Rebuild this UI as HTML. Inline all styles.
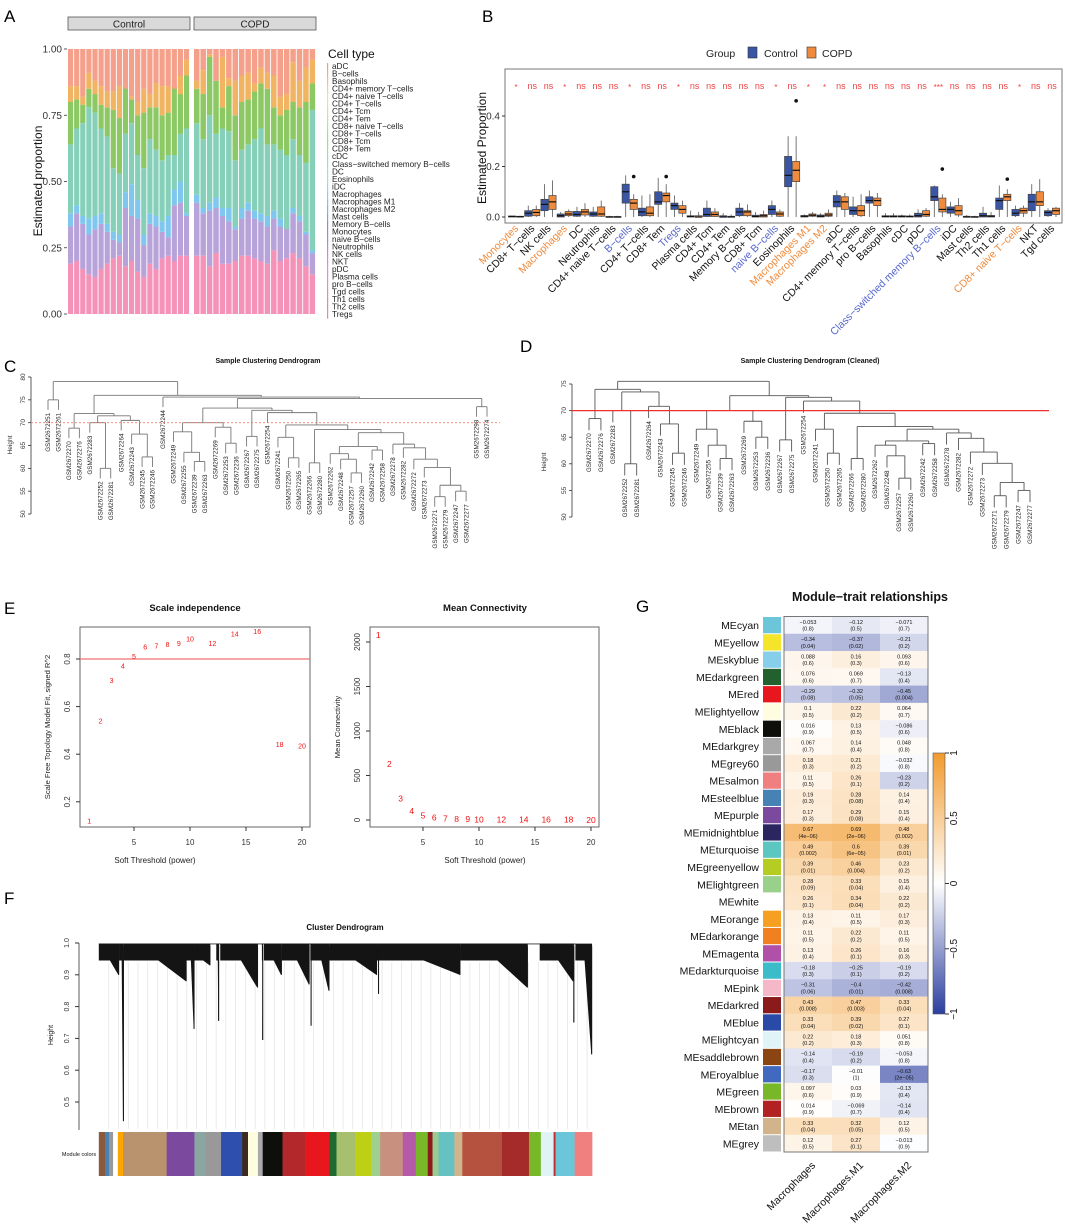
<!DOCTYPE html>
<html><head><meta charset="utf-8"><title>Figure</title>
<style>
html,body{margin:0;padding:0;background:#fff;}
svg{display:block;font-family:"Liberation Sans",Arial,sans-serif;}
</style></head>
<body>
<svg id="fig" width="1065" height="1224" viewBox="0 0 1065 1224" xmlns="http://www.w3.org/2000/svg">
<rect x="0" y="0" width="1065" height="1224" fill="#fff"/>
<text x="4" y="22" font-size="17">A</text>
<text x="482" y="22" font-size="17">B</text>
<text x="4" y="372" font-size="17">C</text>
<text x="520" y="352" font-size="17">D</text>
<text x="4" y="614" font-size="17">E</text>
<text x="4" y="904" font-size="17">F</text>
<text x="636" y="612" font-size="17">G</text>
<g id="gA"></g>
<g id="gB"></g>
<g id="gC"></g>
<g id="gD"></g>
<g id="gE"></g>
<g id="gF"></g>
<g id="gG"></g>
</svg>
<script>
// ---------- Panel A data ----------
const ctrlPink=[.19,.2,.17,.15,.14,.17,.19,.21,.22,.18,.2,.16,.14,.19,.17,.21,.22,.2,.22,.22];
const ctrlPurple=[.33,.38,.34,.3,.32,.34,.31,.28,.27,.4,.37,.36,.26,.34,.33,.31,.29,.41,.42,.37];
const ctrlBlue=[.38,.41,.37,.36,.37,.38,.34,.31,.3,.46,.49,.43,.3,.38,.37,.35,.37,.47,.5,.38];
const ctrlTeal=[.64,.7,.72,.78,.76,.7,.67,.55,.53,.68,.72,.6,.55,.66,.62,.58,.6,.6,.68,.7];
const ctrlGreen=[.8,.81,.79,.85,.83,.79,.78,.77,.74,.86,.81,.75,.76,.78,.78,.75,.76,.86,.83,.9];
const ctrlOrange=[.86,.86,.82,.91,.88,.86,.84,.84,.86,.85,.82,.8,.85,.83,.87,.86,.86,.85,.9,.96];
const copdPink=[.22,.22,.18,.23,.19,.19,.2,.22,.22,.21,.2,.19,.24,.2,.21,.23,.21,.18,.15];
const copdPurple=[.42,.38,.39,.4,.37,.35,.32,.36,.39,.36,.35,.33,.36,.33,.37,.38,.35,.3,.23];
const copdBlue=[.45,.4,.42,.44,.4,.4,.33,.4,.42,.39,.38,.37,.39,.36,.32,.4,.37,.31,.24];
const copdTeal=[.72,.66,.75,.68,.7,.69,.58,.62,.64,.66,.7,.64,.64,.62,.6,.66,.6,.57,.77];
const copdGreen=[.85,.83,.97,.88,.78,.86,.75,.8,.81,.84,.87,.85,.78,.75,.77,.8,.78,.8,.87];
const copdOrange=[.88,.92,.98,.88,.97,.89,.88,.9,.91,.87,.93,.91,.9,.82,.83,.95,.88,.93,.96];
const cellTypes=["aDC","B\u2212cells","Basophils","CD4+ memory T\u2212cells","CD4+ naive T\u2212cells","CD4+ T\u2212cells","CD4+ Tcm","CD4+ Tem","CD8+ naive T\u2212cells","CD8+ T\u2212cells","CD8+ Tcm","CD8+ Tem","cDC","Class\u2212switched memory B\u2212cells","DC","Eosinophils","iDC","Macrophages","Macrophages M1","Macrophages M2","Mast cells","Memory B\u2212cells","Monocytes","naive B\u2212cells","Neutrophils","NK cells","NKT","pDC","Plasma cells","pro B\u2212cells","Tgd cells","Th1 cells","Th2 cells","Tregs"];
const yTicksA=[0,0.25,0.5,0.75,1];
const yTickLabelsA=["0.00","0.25","0.50","0.75","1.00"];

// ---------- Panel B data ----------
const bCats=["Monocytes","CD8+ T\u2212cells","NK cells","Macrophages","DC","Neutrophils","CD4+ naive T\u2212cells","B\u2212cells","CD4+ T\u2212cells","CD8+ Tem","Tregs","Plasma cells","CD4+ Tcm","CD4+ Tem","Memory B\u2212cells","CD8+ Tcm","naive B\u2212cells","Eosinophils","Macrophages M1","Macrophages M2","aDC","CD4+ memory T\u2212cells","pro B\u2212cells","Basophils","cDC","pDC","Class\u2212switched memory B\u2212cells","iDC","Mast cells","Th2 cells","Th1 cells","CD8+ naive T\u2212cells","NKT","Tgd cells"];
const bCatTone=["o","k","k","o","k","k","k","b","k","k","b","k","k","k","k","k","b","k","o","o","k","k","k","k","k","k","b","k","k","k","k","o","k","k"];
const bSig=["*","ns","ns","*","ns","ns","ns","*","ns","ns","*","ns","ns","ns","ns","ns","*","ns","*","*","ns","ns","ns","ns","ns","ns","***","ns","ns","ns","ns","*","ns","ns"];
const ctrlMed=[.002,.015,.05,.005,.01,.012,0,.1,.02,.06,.045,.002,.01,0,.02,.002,.03,.165,.003,.003,.06,.025,.065,.002,.002,.005,.08,.03,0,.005,.065,.015,.06,.018];
const ctrlQ1=[0,.003,.025,0,.003,.003,0,.055,.005,.05,.03,0,.002,0,.005,0,.01,.12,0,0,.04,.01,.055,0,0,0,.065,.015,0,0,.03,.005,.025,.005];
const ctrlQ3=[.004,.025,.07,.012,.022,.02,.002,.13,.035,.1,.055,.005,.035,.005,.035,.007,.045,.24,.006,.008,.085,.04,.08,.005,.005,.015,.12,.04,.003,.015,.075,.03,.09,.025];
const ctrlHi=[.006,.045,.13,.02,.04,.04,.005,.165,.085,.155,.085,.025,.065,.015,.055,.02,.065,.32,.01,.015,.105,.08,.105,.015,.01,.03,.125,.06,.008,.04,.125,.045,.13,.035];
const copdMed=[.001,.018,.06,.012,.02,.012,0,.055,.015,.085,.03,0,.01,0,.02,.005,.012,.185,.007,.008,.06,.025,.065,.002,.002,.01,.03,.025,0,.003,.08,.025,.06,.025];
const copdQ1=[0,.005,.03,.005,.008,.003,0,.03,.005,.06,.015,0,.002,0,.005,0,.003,.14,.003,.003,.03,.005,.045,0,0,.003,.02,.008,0,0,.065,.015,.045,.01];
const copdQ3=[.003,.03,.085,.022,.03,.04,.002,.07,.04,.095,.045,.005,.02,.003,.025,.01,.02,.22,.012,.015,.08,.045,.075,.005,.004,.025,.075,.045,.002,.006,.09,.035,.1,.035];
const copdHi=[.005,.045,.145,.03,.055,.065,.005,.09,.09,.13,.065,.02,.035,.01,.05,.025,.03,.32,.02,.03,.095,.09,.095,.015,.01,.035,.09,.075,.005,.02,.11,.045,.15,.04];
const yTicksB=[0,0.2,0.4];

// ---------- Panel C / D data (nested merges: [height, left, right]) ----------
const treeC=[79,[75,"GSM2672251","GSM2672261"],[76,
  [72,[68.8,"GSM2672270","GSM2672276"],[71.5,[70,"GSM2672283",[60,"GSM2672252","GSM2672281"]],[70.5,"GSM2672264",[67.5,"GSM2672243",[62.5,"GSM2672245","GSM2672246"]]]]],
  [75.6,"GSM2672244",[75.3,
    [73.2,[70,[68,"GSM2672249",[63.5,"GSM2672255",[61.5,"GSM2672239","GSM2672263"]]],[69,"GSM2672269",[65.5,"GSM2672253","GSM2672236"]]],
      [72.7,[67,"GSM2672267","GSM2672275"],[72.2,"GSM2672254",[69.5,[66.8,"GSM2672241",[62.3,"GSM2672250","GSM2672265"]],
        [68.5,[61.2,"GSM2672266","GSM2672280"],[67.8,[64.8,[63.2,"GSM2672262",[62,"GSM2672248",[59,"GSM2672257","GSM2672260"]]],[64,"GSM2672242","GSM2672258"]],
          [65.3,"GSM2672278",[64.5,"GSM2672282",[62,"GSM2672272",[60.2,"GSM2672273",[56.3,[53.8,"GSM2672271","GSM2672279"],[55,"GSM2672247","GSM2672277"]]]]]]]]]]]],
    [73.5,"GSM2672298","GSM2672274"]]]]];
const treeD=[75.5,
  [74,[68.5,"GSM2672270","GSM2672276"],[73.5,[70,"GSM2672283",[60,"GSM2672252","GSM2672281"]],[70.8,"GSM2672264",[67.5,"GSM2672243",[62,"GSM2672245","GSM2672246"]]]]],
  [72.8,[70,[66.5,"GSM2672249",[63.5,"GSM2672255",[61,"GSM2672239","GSM2672263"]]],[68,"GSM2672269",[65,"GSM2672253","GSM2672236"]]],
    [72.5,[64.5,"GSM2672267","GSM2672275"],[71.8,"GSM2672254",[69.5,[66.5,"GSM2672241",[62,"GSM2672250","GSM2672265"]],
      [67,[61,"GSM2672266","GSM2672280"],[66.5,[64.3,[63.5,"GSM2672262",[61.5,"GSM2672248",[57.3,"GSM2672257","GSM2672260"]]],[63.8,"GSM2672242","GSM2672258"]],
        [65.8,"GSM2672278",[64.8,"GSM2672282",[62.2,"GSM2672272",[60.1,"GSM2672273",[56.5,[54,"GSM2672271","GSM2672279"],[55,"GSM2672247","GSM2672277"]]]]]]]]]]]]];

// ---------- Panel E data ----------
const powers=[1,2,3,4,5,6,7,8,9,10,12,14,16,18,20];
const sftR2=[0.12,0.54,0.71,0.77,0.81,0.85,0.855,0.86,0.865,0.885,0.865,0.905,0.915,0.44,0.435];
const meanK=[2080,630,240,100,52,28,18,12,9,7,5,4,3,3,2];

// ---------- Panel F data ----------
const fClusterStart=[249,300,312,470,490,545,555,660,665,710,782,785,830,950,955,1160,1360,1445,1450];
const fClusterEnd=[300,312,470,490,530,552,650,663,710,780,785,830,950,955,1160,1330,1445,1447,1492];
const fClusterMin=[0.9,0.44,0.88,0.73,0.93,0.755,0.86,0.695,0.9,0.87,0.74,0.85,0.9,0.84,0.9,0.86,0.88,0.75,0.65];
const modStart=[249,265,275,285,297,310,420,490,518,557,610,625,650,662,712,770,830,848,895,935,958,1015,1048,1078,1090,1105,1145,1165,1265,1333,1363,1395,1400,1448];
const modEnd=[265,275,285,297,310,420,490,518,557,610,625,650,662,712,770,830,848,895,935,958,1015,1048,1078,1090,1105,1145,1165,1265,1333,1363,1395,1400,1448,1492];
const modColor=["#8B5A3C","#4682B4","#999999","#ffffff","#FFA500","#B8936E","#7B4A9E","#8AA6A0","#999999","#2F4FAF","#3A2A22","#FFFDE0","#aaaaaa","#0E0E0A","#B3282A","#E8171E","#1E6A30","#A7C070","#BDD014","#A0D090","#C8907E","#B45AA8","#78B828","#8B1A1A","#9ACB90","#66C2C2","#D2B48C","#B5523F","#A52A2A","#78B828","#E0F4F8","#C03030","#6CC6DA","#F08080"];
const fYTicks=[0.5,0.6,0.7,0.8,0.9,1.0];

// ---------- Panel G data ----------
const modules=["MEcyan","MEyellow","MEskyblue","MEdarkgreen","MEred","MElightyellow","MEblack","MEdarkgrey","MEgrey60","MEsalmon","MEsteelblue","MEpurple","MEmidnightblue","MEturquoise","MEgreenyellow","MElightgreen","MEwhite","MEorange","MEdarkorange","MEmagenta","MEdarkturquoise","MEpink","MEdarkred","MEblue","MElightcyan","MEsaddlebrown","MEroyalblue","MEgreen","MEbrown","MEtan","MEgrey"];
const moduleSwatch=["#6CC6DA","#F5E52A","#87CEEB","#22602E","#E8171E","#FFFDE0","#0E0E0A","#A9A9A9","#999999","#F08080","#4682B4","#7B4A9E","#2B2560","#5CC6C0","#B5CC22","#99D08A","#FFFFFF","#F5A020","#F08020","#B050A8","#3CBCC8","#F4B8C8","#8B1A1A","#2A4AA8","#E0F4F8","#8B4513","#4169C0","#78B828","#B22222","#D2B48C","#BEBEBE"];
const traits=["Macrophages","Macrophages.M1","Macrophages.M2"];
const corrMac=[-0.053,-0.34,0.088,0.076,-0.29,0.1,0.016,0.067,0.18,0.11,0.19,0.17,0.67,0.49,0.39,0.28,0.26,0.13,0.11,0.13,-0.18,-0.31,0.43,0.33,0.22,-0.14,-0.17,0.097,0.014,0.33,0.12];
const corrM1=[-0.12,-0.37,0.16,0.069,-0.32,0.22,0.13,0.14,0.21,0.26,0.28,0.29,0.69,0.6,0.46,0.33,0.34,0.11,0.22,0.26,-0.25,-0.4,0.47,0.39,0.18,-0.19,-0.01,0.03,-0.069,0.32,0.27];
const corrM2=[-0.071,-0.21,0.093,-0.13,-0.45,0.064,-0.086,0.048,-0.032,-0.23,0.14,0.15,0.48,0.39,0.23,0.15,0.22,0.17,0.11,0.16,-0.19,-0.42,0.33,0.27,0.051,-0.053,-0.63,-0.13,-0.14,0.12,-0.013];
const pMac=["0.8","0.04","0.6","0.6","0.08","0.5","0.9","0.7","0.3","0.5","0.3","0.3","4e\u221206","0.002","0.01","0.09","0.1","0.4","0.5","0.4","0.3","0.06","0.008","0.04","0.2","0.4","0.3","0.6","0.9","0.04","0.5"];
const pM1=["0.5","0.02","0.3","0.7","0.05","0.2","0.5","0.4","0.2","0.1","0.08","0.08","2e\u221206","6e\u221205","0.004","0.04","0.04","0.5","0.2","0.1","0.1","0.01","0.003","0.02","0.3","0.2","1","0.9","0.7","0.05","0.1"];
const pM2=["0.7","0.2","0.6","0.4","0.004","0.7","0.6","0.8","0.8","0.2","0.4","0.4","0.002","0.01","0.2","0.4","0.2","0.3","0.5","0.3","0.2","0.008","0.04","0.1","0.8","0.8","2e\u221205","0.4","0.4","0.5","0.9"];
const cbTicks=[1,0.5,0,-0.5,-1];
const cbTickLabels=["1","0.5","0","\u22120.5","\u22121"];

// ---------- helpers ----------
const NS="http://www.w3.org/2000/svg";
function mk(tag,attrs,parent){const e=document.createElementNS(NS,tag);for(const k in attrs)e.setAttribute(k,attrs[k]);parent.appendChild(e);return e;}
function nm(el,n){


return el;}
function txt(parent,x,y,s,size,opts){const o=Object.assign({x:x,y:y,'font-size':size},opts||{});const t=mk('text',o,parent);t.textContent=s;return t;}

// ---------- Panel A ----------
(function(){
const g=document.getElementById('gA');
const yA=v=>314-v*265;
const layerColors=["#F592B8","#B7A2DA","#7FC7EE","#86D0BA","#8CC864","#F0B462","#F4A08A"];
function drawFacet(x0,x1,layers,label){
  const n=layers[0].length,w=(x1-x0)/n;
  const strip=mk('rect',{x:x0,y:17,width:x1-x0,height:13,fill:'#D9D9D9',stroke:'#555','stroke-width':0.8},g);
  nm(strip,'facet-strip-'+label.toLowerCase());
  nm(txt(g,(x0+x1)/2,27.5,label,10,{'text-anchor':'middle',fill:'#222'}),'facet-label-'+label.toLowerCase());
  for(let i=0;i<n;i++){
    let prev=0;
    for(let L=0;L<=layers.length;L++){
      const top=L<layers.length?layers[L][i]:1;
      const r=mk('rect',{x:x0+i*w,y:yA(top),width:w-0.9,height:yA(prev)-yA(top),fill:layerColors[L]},g);
      nm(r,'stack-segment');
      prev=top;
    }
  }
}
drawFacet(68,190,[ctrlPink,ctrlPurple,ctrlBlue,ctrlTeal,ctrlGreen,ctrlOrange],'Control');
drawFacet(194,316,[copdPink,copdPurple,copdBlue,copdTeal,copdGreen,copdOrange],'COPD');
yTicksA.forEach((v,i)=>{
  nm(mk('line',{x1:64,x2:67,y1:yA(v),y2:yA(v),stroke:'#333','stroke-width':0.8},g),'y-tick');
  nm(txt(g,62,yA(v)+3.5,yTickLabelsA[i],10,{'text-anchor':'end',fill:'#333'}),'y-tick-label');
});
nm(txt(g,42,181,'Estimated proportion',12,{'text-anchor':'middle',transform:'rotate(-90 42 181)',fill:'#111'}),'y-axis-title');
nm(txt(g,328,58,'Cell type',12,{fill:'#111'}),'legend-title');
cellTypes.forEach((c,i)=>{
  const y=66+i*7.52;
  const h=15+i*360/cellTypes.length;
  nm(mk('rect',{x:327,y:y-3,width:1.2,height:7.5,fill:'hsl('+h+',70%,72%)'},g),'legend-key');
  nm(txt(g,332,y+3,c,8.2,{fill:'#222'}),'legend-entry');
});
})();

// ---------- Panel B ----------
(function(){
const g=document.getElementById('gB');
const x0=505,x1=1062,yT=69,yBot=223;
const yB=v=>217-v*252.5;
const step=(1052-516)/(bCats.length-1);
const xc=i=>516+i*step;
nm(mk('rect',{x:x0,y:yT,width:x1-x0,height:yBot-yT,fill:'none',stroke:'#777','stroke-width':1},g),'plot-frame');
nm(txt(g,706,57,'Group',10.5,{fill:'#222'}),'legend-title');
nm(mk('rect',{x:748,y:47,width:9,height:11,fill:'#3A55A4',stroke:'#333','stroke-width':0.6},g),'legend-key-control');
nm(txt(g,764,57,'Control',10.5,{fill:'#222'}),'legend-label-control');
nm(mk('rect',{x:807,y:47,width:9,height:11,fill:'#F08A3C',stroke:'#333','stroke-width':0.6},g),'legend-key-copd');
nm(txt(g,822,57,'COPD',10.5,{fill:'#222'}),'legend-label-copd');
yTicksB.forEach(v=>{
  nm(mk('line',{x1:x0-3,x2:x0,y1:yB(v),y2:yB(v),stroke:'#333'},g),'y-tick');
  nm(txt(g,x0-5,yB(v)+3.5,v.toFixed(1),10,{'text-anchor':'end',fill:'#333'}),'y-tick-label');
});
nm(txt(g,486,148,'Estimated Proportion',12,{'text-anchor':'middle',transform:'rotate(-90 486 148)',fill:'#111'}),'y-axis-title');
function box(cx,q1,med,q3,hi,fill,name){
  nm(mk('line',{x1:cx,x2:cx,y1:yB(hi),y2:yB(0),stroke:'#555','stroke-width':0.8},g),name+'-whisker');
  nm(mk('rect',{x:cx-3.6,y:yB(q3),width:7.2,height:Math.max(0.8,yB(q1)-yB(q3)),fill:fill,stroke:'#444','stroke-width':0.7},g),name+'-box');
  nm(mk('line',{x1:cx-3.6,x2:cx+3.6,y1:yB(med),y2:yB(med),stroke:'#111','stroke-width':1.2},g),name+'-median');
}
bCats.forEach((c,i)=>{
  const cx=xc(i);
  box(cx-4,ctrlQ1[i],ctrlMed[i],ctrlQ3[i],ctrlHi[i],'#3A55A4','control');
  box(cx+4,copdQ1[i],copdMed[i],copdQ3[i],copdHi[i],'#F08A3C','copd');
  nm(txt(g,cx,bSig[i]==='ns'?89:90,bSig[i],bSig[i]==='ns'?9:8,{'text-anchor':'middle',fill:'#F04040'}),'significance-label');
  const col=bCatTone[i]==='o'?'#F08A3C':(bCatTone[i]==='b'?'#5566CC':'#111');
  nm(txt(g,cx+3,229,c,10.5,{'text-anchor':'end',transform:'rotate(-45 '+(cx+3)+' 229)',fill:col}),'x-tick-label');
});
nm(mk('circle',{cx:xc(17)+4,cy:yB(0.46),r:1.8,fill:'#111'},g),'outlier-point');
nm(mk('circle',{cx:xc(26)+4,cy:yB(0.19),r:1.8,fill:'#111'},g),'outlier-point');
nm(mk('circle',{cx:xc(7)+4,cy:yB(0.16),r:1.8,fill:'#111'},g),'outlier-point');
nm(mk('circle',{cx:xc(9)+4,cy:yB(0.16),r:1.8,fill:'#111'},g),'outlier-point');
nm(mk('circle',{cx:xc(30)+4,cy:yB(0.15),r:1.8,fill:'#111'},g),'outlier-point');
})();

// ---------- Dendrogram helper ----------
function dendro(g,tree,x0,step,yF,hang,color){
  let idx=0;
  function rec(node){
    if(typeof node==='string'){const x=x0+(idx++)*step;return {x:x,leaf:node};}
    const a=rec(node[1]),b=rec(node[2]);const h=node[0];
    [a,b].forEach(c=>{
      if(c.leaf){
        nm(mk('line',{x1:c.x,x2:c.x,y1:yF(h),y2:yF(h-hang),stroke:color,'stroke-width':0.9},g),'leaf-branch');
        nm(txt(g,c.x+2.2,yF(h-hang)+3,c.leaf,6.3,{'text-anchor':'end',transform:'rotate(-90 '+(c.x+2.2)+' '+(yF(h-hang)+3)+')',fill:'#222'}),'leaf-label');
      }else{
        nm(mk('line',{x1:c.x,x2:c.x,y1:yF(h),y2:yF(c.h),stroke:color,'stroke-width':0.9},g),'branch');
      }
    });
    nm(mk('line',{x1:a.x,x2:b.x,y1:yF(h),y2:yF(h),stroke:color,'stroke-width':0.9},g),'merge');
    return {x:(a.x+b.x)/2,h:h};
  }
  return rec(tree);
}
function dAxis(g,ax,yF,lo,hi,stepv){
  nm(mk('line',{x1:ax,x2:ax,y1:yF(hi),y2:yF(lo),stroke:'#333','stroke-width':0.8},g),'y-axis-line');
  for(let v=lo;v<=hi;v+=stepv){
    nm(mk('line',{x1:ax-3,x2:ax,y1:yF(v),y2:yF(v),stroke:'#333','stroke-width':0.8},g),'y-tick');
    nm(txt(g,ax-6,yF(v),String(v),6.5,{'text-anchor':'middle',transform:'rotate(-90 '+(ax-6)+' '+yF(v)+')',fill:'#333'}),'y-tick-label');
  }
}
// Panel C
(function(){
const g=document.getElementById('gC');
const yC=h=>377+(80-h)*4.567;
nm(txt(g,268,363,'Sample Clustering Dendrogram',7,{'text-anchor':'middle','font-weight':'bold',fill:'#111'}),'chart-title');
dAxis(g,31,yC,50,80,5);
nm(txt(g,12,445,'Height',6.5,{'text-anchor':'middle',transform:'rotate(-90 12 445)',fill:'#333'}),'y-axis-title');
dendro(g,treeC,48,(487-48)/42,yC,2.2,'#777');
nm(mk('line',{x1:31,x2:500,y1:yC(70),y2:yC(70),stroke:'#F08070','stroke-width':0.9,'stroke-dasharray':'2,2'},g),'cut-line');
})();
// Panel D
(function(){
const g=document.getElementById('gD');
const yD=h=>384+(75-h)*5.32;
nm(txt(g,810,363,'Sample Clustering Dendrogram (Cleaned)',7,{'text-anchor':'middle','font-weight':'bold',fill:'#111'}),'chart-title');
dAxis(g,572,yD,50,75,5);
nm(txt(g,546,462,'Height',6.5,{'text-anchor':'middle',transform:'rotate(-90 546 462)',fill:'#333'}),'y-axis-title');
dendro(g,treeD,589,(1030-589)/37,yD,2.2,'#555');
nm(mk('line',{x1:572,x2:1049,y1:yD(70),y2:yD(70),stroke:'#F03030','stroke-width':1.3},g),'cut-line');
})();

// ---------- Panel E ----------
(function(){
const g=document.getElementById('gE');
function frame(l,r,t,b,name){nm(mk('rect',{x:l,y:t,width:r-l,height:b-t,fill:'none',stroke:'#666','stroke-width':1},g),name);}
const xL=p=>134+(p-5)*11.2, yL=v=>659+(0.8-v)*238;
const xR=p=>423+(p-5)*11.2, yR=v=>820-v*0.089;
frame(80,310,627,827,'left-plot-frame');frame(370,599,627,827,'right-plot-frame');
nm(txt(g,195,611,'Scale independence',9.5,{'text-anchor':'middle','font-weight':'bold',fill:'#111'}),'left-title');
nm(txt(g,485,611,'Mean Connectivity',9.5,{'text-anchor':'middle','font-weight':'bold',fill:'#111'}),'right-title');
[5,10,15,20].forEach(p=>{
  nm(mk('line',{x1:xL(p),x2:xL(p),y1:827,y2:831,stroke:'#333'},g),'x-tick');
  nm(txt(g,xL(p),845,String(p),8,{'text-anchor':'middle',fill:'#333'}),'x-tick-label');
  nm(mk('line',{x1:xR(p),x2:xR(p),y1:827,y2:831,stroke:'#333'},g),'x-tick');
  nm(txt(g,xR(p),845,String(p),8,{'text-anchor':'middle',fill:'#333'}),'x-tick-label');
});
[0.2,0.4,0.6,0.8].forEach(v=>{
  nm(mk('line',{x1:76,x2:80,y1:yL(v),y2:yL(v),stroke:'#333'},g),'y-tick');
  nm(txt(g,70,yL(v),v.toFixed(1),8,{'text-anchor':'middle',transform:'rotate(-90 70 '+yL(v)+')',fill:'#333'}),'y-tick-label');
});
[0,500,1000,1500,2000].forEach(v=>{
  nm(mk('line',{x1:366,x2:370,y1:yR(v),y2:yR(v),stroke:'#333'},g),'y-tick');
  nm(txt(g,360,yR(v),String(v),8,{'text-anchor':'middle',transform:'rotate(-90 360 '+yR(v)+')',fill:'#333'}),'y-tick-label');
});
nm(txt(g,155,863,'Soft Threshold (power)',8,{'text-anchor':'middle',fill:'#222'}),'x-axis-title');
nm(txt(g,485,863,'Soft Threshold (power)',8,{'text-anchor':'middle',fill:'#222'}),'x-axis-title');
nm(txt(g,50,727,'Scale Free Topology Model Fit, signed R^2',7.6,{'text-anchor':'middle',transform:'rotate(-90 50 727)',fill:'#222'}),'y-axis-title');
nm(txt(g,340,727,'Mean Connectivity',7.6,{'text-anchor':'middle',transform:'rotate(-90 340 727)',fill:'#222'}),'y-axis-title');
nm(mk('line',{x1:80,x2:310,y1:yL(0.8),y2:yL(0.8),stroke:'#F07070','stroke-width':1.3},g),'threshold-line');
powers.forEach((p,i)=>{
  nm(txt(g,xL(p),yL(sftR2[i])+2.5,String(p),7,{'text-anchor':'middle',fill:'#F01010'}),'point-label');
  nm(txt(g,xR(p),yR(meanK[i])+3,String(p),8.5,{'text-anchor':'middle',fill:'#F01010'}),'point-label');
});
})();

// ---------- Panel F ----------
(function(){
const g=document.getElementById('gF');
const xF=z=>z/2.52, yF=h=>943+(1-h)*318;
nm(txt(g,345,930,'Cluster Dendrogram',8,{'text-anchor':'middle','font-weight':'bold',fill:'#111'}),'chart-title');
nm(mk('line',{x1:79,x2:79,y1:yF(1),y2:1130,stroke:'#333','stroke-width':0.8},g),'y-axis-line');
fYTicks.forEach(v=>{
  nm(mk('line',{x1:75,x2:79,y1:yF(v),y2:yF(v),stroke:'#333'},g),'y-tick');
  nm(txt(g,69,yF(v),v.toFixed(1),7,{'text-anchor':'middle',transform:'rotate(-90 69 '+yF(v)+')',fill:'#333'}),'y-tick-label');
});
nm(txt(g,53,1035,'Height',7,{'text-anchor':'middle',transform:'rotate(-90 53 1035)',fill:'#222'}),'y-axis-title');
for(let z=274;z<1492;z+=24.6){nm(mk('line',{x1:xF(z),x2:xF(z),y1:yF(0.94),y2:1129,stroke:'#dddddd','stroke-width':0.6},g),'leaf-line');}
nm(mk('line',{x1:xF(249),x2:xF(1450),y1:yF(0.997),y2:yF(0.997),stroke:'#333','stroke-width':0.8},g),'top-merge');
fClusterStart.forEach((s,i)=>{
  const e=fClusterEnd[i],m=fClusterMin[i];
  const base=Math.max(m,0.945);
  const pts=[[xF(s),yF(0.998)],[xF(e),yF(0.998)],[xF(e),yF(m)],[xF(e)-0.8,yF(m)],[xF(s+(e-s)*0.55),yF(base)],[xF(s),yF(base)]];
  nm(mk('polygon',{points:pts.map(p=>p.join(',')).join(' '),fill:'#141414'},g),'cluster-branch');
  nm(mk('line',{x1:xF(e)-0.4,x2:xF(e)-0.4,y1:yF(0.99),y2:yF(m),stroke:'#141414','stroke-width':1},g),'cluster-tail');
});
modStart.forEach((s,i)=>{
  nm(mk('rect',{x:xF(s),y:1132,width:xF(modEnd[i])-xF(s)+0.3,height:44,fill:modColor[i]},g),'module-color-segment');
});
nm(txt(g,79,1156,'Module colors',5.5,{'text-anchor':'middle',fill:'#111'}),'module-colors-label');
})();

// ---------- Panel G ----------
(function(){
const g=document.getElementById('gG');
const hx=784,hw=48,hy=616.5,hH=535.5;
const rh=hH/modules.length;
function col(v){
  const c=v>=0?[242,155,46]:[43,63,160];const a=Math.min(1,Math.abs(v));
  return 'rgb('+c.map(k=>Math.round(255-a*(255-k))).join(',')+')';
}
nm(txt(g,870,601,'Module\u2212trait relationships',12.5,{'text-anchor':'middle','font-weight':'bold',fill:'#111'}),'chart-title');
const cols=[corrMac,corrM1,corrM2],ps=[pMac,pM1,pM2];
modules.forEach((m,r)=>{
  const y=hy+r*rh;
  nm(txt(g,759,y+rh/2+4,m,10.5,{'text-anchor':'end',fill:'#111'}),'row-label');
  nm(mk('rect',{x:763,y:y+0.5,width:18,height:rh-1,fill:moduleSwatch[r]},g),'module-swatch');
  for(let c=0;c<3;c++){
    const v=cols[c][r];
    nm(mk('rect',{x:hx+c*hw,y:y,width:hw+0.3,height:rh+0.3,fill:col(v)},g),'heatmap-cell');
    nm(txt(g,hx+c*hw+hw/2,y+7.3,String(v).replace('-','\u2212'),5.5,{'text-anchor':'middle',fill:'#111'}),'cell-value');
    nm(txt(g,hx+c*hw+hw/2,y+14,'('+ps[c][r]+')',5.5,{'text-anchor':'middle',fill:'#111'}),'cell-pvalue');
  }
});
nm(mk('rect',{x:hx,y:hy,width:hw*3,height:hH,fill:'none',stroke:'#777','stroke-width':1},g),'heatmap-frame');
traits.forEach((t,c)=>{
  const x=hx+c*hw+hw/2+8,y=1166;
  nm(txt(g,x,y,t,10.5,{'text-anchor':'end',transform:'rotate(-45 '+x+' '+y+')',fill:'#111'}),'x-tick-label');
});
const cbT=753,cbB=1014,cbX=933;
const grad=mk('defs',{},g);
const lg=mk('linearGradient',{id:'cbg',x1:0,y1:0,x2:0,y2:1},grad);
mk('stop',{offset:'0','stop-color':col(1)},lg);mk('stop',{offset:'0.5','stop-color':'#fff'},lg);mk('stop',{offset:'1','stop-color':col(-1)},lg);
nm(mk('rect',{x:cbX,y:cbT,width:12,height:cbB-cbT,fill:'url(#cbg)',stroke:'#555','stroke-width':0.6},g),'colorbar');
cbTicks.forEach((v,i)=>{
  const y=cbT+(1-v)/2*(cbB-cbT);
  nm(mk('line',{x1:cbX+12,x2:cbX+16,y1:y,y2:y,stroke:'#333'},g),'colorbar-tick');
  nm(txt(g,cbX+24,y,cbTickLabels[i],10,{'text-anchor':'middle',transform:'rotate(-90 '+(cbX+24)+' '+y+')',fill:'#111'}),'colorbar-tick-label');
});
})();
</script>
</body></html>
